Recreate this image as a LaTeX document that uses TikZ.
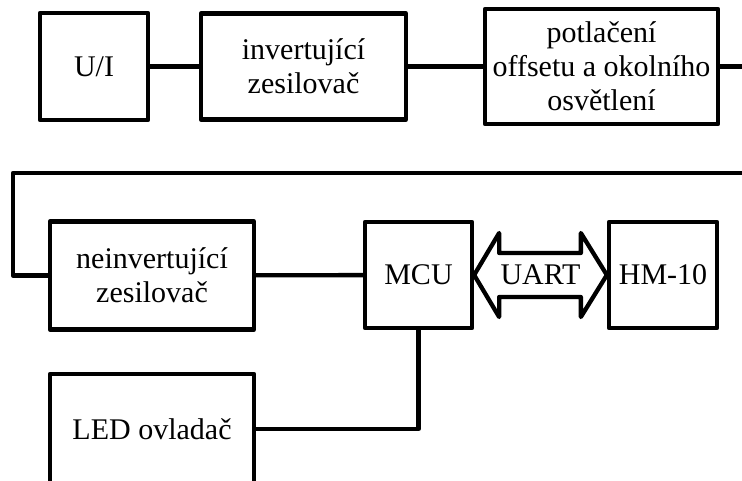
\documentclass[tikz,border=0pt]{standalone}
\usepackage{fontspec}
\setmainfont{Liberation Serif}
\usetikzlibrary{calc}
\begin{document}
\begin{tikzpicture}[x=1pt,y=-1pt,
  label font/.style={font=\fontsize{30}{34}\selectfont},
  block/.style={draw,line width=4.3pt,line join=round,rectangle,align=center,
    inner sep=0pt,label font},
  wire/.style={line width=4.3pt,line join=round}]
\useasboundingbox (0,0) rectangle (742,481);
\clip (0,0) rectangle (742,481);

% top row
\node[block,minimum width=108pt,minimum height=107pt] (ui) at (94,66.5) {U/I};
\node[block,minimum width=205pt,minimum height=106pt] (inv) at (303.5,66.5) {invertující\\zesilovač};
\node[block,minimum width=233pt,minimum height=115pt] (pot) at (601.5,66.5) {potlačení\\offsetu a okolního\\osvětlení};

% middle row
\node[block,minimum width=204pt,minimum height=108pt] (neinv) at (152,275.5) {neinvertující\\zesilovač};
\node[block,minimum width=107pt,minimum height=106pt] (mcu) at (418.5,275) {MCU};
\node[block,minimum width=108pt,minimum height=106pt] (hm) at (663,275) {HM-10};

% bottom row
\node[block,minimum width=204pt,minimum height=110pt] (led) at (152,429) {LED ovladač};

% free ends of the line that wraps back to the second row
\coordinate (outR) at (748,66.5);
\coordinate (retR) at (748,173);
\coordinate (retL) at (13,173);

\draw[wire] (ui) -- (inv);
\draw[wire] (inv) -- (pot);
\draw[wire] (pot) -- (outR);
\draw[wire] (retR) -- (retL) |- (neinv.west);
\draw[wire] (neinv) -- (mcu);
\draw[wire] (mcu.south) |- (led.east);

% UART double arrow between MCU and HM-10
\draw[wire] (mcu.east) -- ++(25,-42) -- ++(0,20) -- ($(hm.west)+(-26,-22)$)
  -- ++(0,-20) -- (hm.west) -- ++(-26,42) -- ++(0,-20)
  -- ($(mcu.east)+(25,22)$) -- ++(0,20) -- cycle;
\node[label font] (uart) at ($(mcu.east)!0.5!(hm.west)$) {UART};
\end{tikzpicture}
\end{document}
